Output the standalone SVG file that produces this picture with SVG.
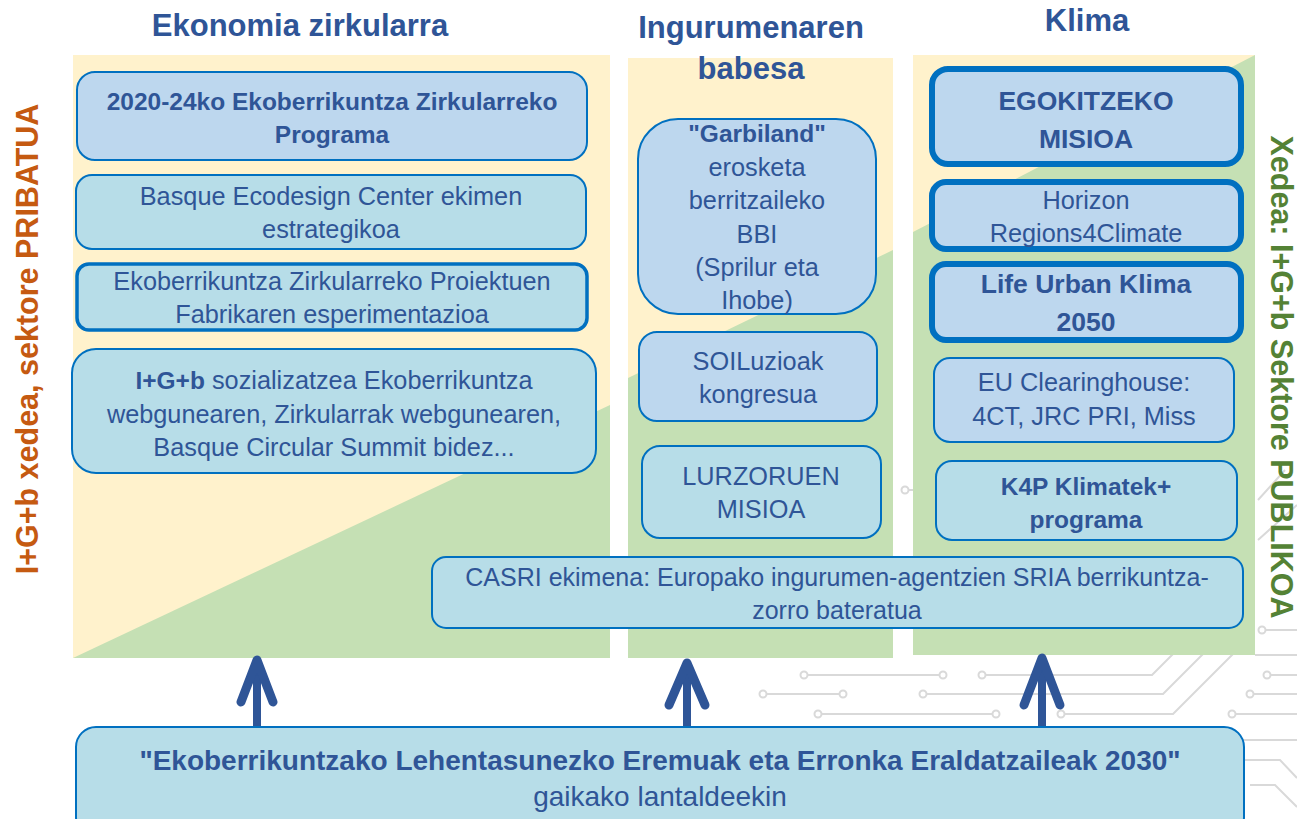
<svg xmlns="http://www.w3.org/2000/svg" width="1297" height="819" viewBox="0 0 1297 819">
<style>
.bg{fill:#ffffff}
.yel{fill:#FFF2CC}
.grn{fill:#C5E0B4}
.circ{fill:none;stroke:#D9D9D9;stroke-width:2}
.dot{fill:#ffffff;stroke:#D9D9D9;stroke-width:2}
.bx{stroke:#0070C0;stroke-width:2}
.thick{stroke:#0070C0;stroke-width:3.5}
.heavy{stroke:#0070C0;stroke-width:6}
.blue{fill:#BDD7EE}
.cyan{fill:#B7DDE8}
.t{font-family:"Liberation Sans",Arial,sans-serif;font-size:25.3px;fill:#2F5597;text-anchor:middle}
.b{font-weight:bold;font-size:24.5px}
.big{font-size:26.5px}
.ft{font-size:28px}
.title{font-family:"Liberation Sans",Arial,sans-serif;font-size:31px;font-weight:bold;fill:#2F5597;text-anchor:middle}
.side{font-family:"Liberation Sans",Arial,sans-serif;font-size:30.5px;font-weight:bold;text-anchor:middle}
.arr{fill:none;stroke:#2F5597;stroke-linecap:round;stroke-linejoin:round}
</style>
<rect class="bg" x="0" y="0" width="1297" height="819"/>
<g id="circuit">
<path class="circ" d="M804 675H943M982 675H1152L1190 637M763 694H843M923 694H1163L1220 637M818 714H996M1061 714H1173L1240 647M1267 675H1297M1250 694H1297M1232 714H1297M1255 655H1297M1262 630H1297M1240 740L1297 740M1245 760L1280 760L1297 778M1250 785L1275 785L1297 807M1258 500L1285 470M1258 540L1297 505M905 490H913"/>
<circle class="dot" cx="804" cy="675" r="3.5"/><circle class="dot" cx="943" cy="675" r="3.5"/>
<circle class="dot" cx="982" cy="675" r="3.5"/><circle class="dot" cx="763" cy="694" r="3.5"/>
<circle class="dot" cx="843" cy="694" r="3.5"/><circle class="dot" cx="923" cy="694" r="3.5"/>
<circle class="dot" cx="818" cy="714" r="3.5"/><circle class="dot" cx="996" cy="714" r="3.5"/>
<circle class="dot" cx="1061" cy="714" r="3.5"/><circle class="dot" cx="1267" cy="675" r="3.5"/>
<circle class="dot" cx="1250" cy="694" r="3.5"/><circle class="dot" cx="1232" cy="714" r="3.5"/>
<circle class="dot" cx="1262" cy="630" r="3.5"/><circle class="dot" cx="905" cy="490" r="3.5"/>
</g>
<g id="panels">
<rect class="yel" x="73" y="55" width="537" height="603"/>
<polygon class="grn" points="73,658 610,658 610,405"/>
<rect class="yel" x="628" y="58" width="265" height="600"/>
<polygon class="grn" points="628,658 893,658 893,250 628,378"/>
<rect class="yel" x="913" y="55" width="342" height="600"/>
<polygon class="grn" points="913,655 1255,655 1255,55 913,232"/>
</g>
<g id="titles">
<text class="title" x="300" y="36">Ekonomia zirkularra</text>
<text class="title" x="751" y="38">Ingurumenaren</text>
<text class="title" x="751" y="79">babesa</text>
<text class="title" x="1087" y="31">Klima</text>
<text class="side" fill="#C55A11" transform="translate(38,339) rotate(-90)">I+G+b xedea, sektore PRIBATUA</text>
<text class="side" fill="#548235" transform="translate(1271,377) rotate(90)">Xedea: I+G+b Sektore PUBLIKOA</text>
</g>
<g id="connectors">
<path class="arr" stroke-width="8" d="M257 727V668"/>
<path class="arr" stroke-width="9" d="M241 702L257 660L273 702"/>
<path class="arr" stroke-width="8" d="M687 727V670"/>
<path class="arr" stroke-width="9" d="M669 705L687 663L705 705"/>
<path class="arr" stroke-width="8" d="M1042 727V664"/>
<path class="arr" stroke-width="9" d="M1024 705L1042 658L1060 705"/>
</g>
<g id="n1">
<rect class="blue bx" x="77" y="72" width="510" height="88" rx="18"/>
<text class="t b" x="332" y="110">2020-24ko Ekoberrikuntza Zirkularreko</text>
<text class="t b" x="332" y="143">Programa</text>
</g>
<g id="n2">
<rect class="cyan bx" x="76" y="175" width="510" height="74" rx="16"/>
<text class="t" x="331" y="205">Basque Ecodesign Center ekimen</text>
<text class="t" x="331" y="238">estrategikoa</text>
</g>
<g id="n3">
<rect class="cyan thick" x="77" y="264" width="510" height="66" rx="12"/>
<text class="t" x="332" y="290">Ekoberrikuntza Zirkularreko Proiektuen</text>
<text class="t" x="332" y="323">Fabrikaren esperimentazioa</text>
</g>
<g id="n4">
<rect class="cyan bx" x="72" y="349" width="524" height="124" rx="24"/>
<text class="t" x="334" y="389"><tspan class="b">I+G+b</tspan> sozializatzea Ekoberrikuntza</text>
<text class="t" x="334" y="423">webgunearen, Zirkularrak webgunearen,</text>
<text class="t" x="334" y="456">Basque Circular Summit bidez...</text>
</g>
<g id="n5">
<rect class="blue bx" x="638" y="119" width="238" height="195" rx="40"/>
<text class="t b" x="757" y="142">"Garbiland"</text>
<text class="t" x="757" y="176">erosketa</text>
<text class="t" x="757" y="209">berritzaileko</text>
<text class="t" x="757" y="243">BBI</text>
<text class="t" x="757" y="276">(Sprilur eta</text>
<text class="t" x="757" y="309">Ihobe)</text>
</g>
<g id="n6">
<rect class="blue bx" x="639" y="332" width="238" height="89" rx="18"/>
<text class="t" x="758" y="370">SOILuzioak</text>
<text class="t" x="758" y="403">kongresua</text>
</g>
<g id="n7">
<rect class="cyan bx" x="642" y="446" width="239" height="92" rx="18"/>
<text class="t" x="761" y="485">LURZORUEN</text>
<text class="t" x="761" y="518">MISIOA</text>
</g>
<g id="n8">
<rect class="blue heavy" x="932" y="69" width="309" height="95" rx="16"/>
<text class="t b big" x="1086" y="110">EGOKITZEKO</text>
<text class="t b big" x="1086" y="148">MISIOA</text>
</g>
<g id="n9">
<rect class="blue heavy" x="932" y="182" width="309" height="67" rx="14"/>
<text class="t" x="1086" y="209">Horizon</text>
<text class="t" x="1086" y="242">Regions4Climate</text>
</g>
<g id="n10">
<rect class="blue heavy" x="932" y="264" width="309" height="76" rx="14"/>
<text class="t b big" x="1086" y="293">Life Urban Klima</text>
<text class="t b big" x="1086" y="331">2050</text>
</g>
<g id="n11">
<rect class="blue bx" x="934" y="358" width="300" height="84" rx="16"/>
<text class="t" x="1084" y="391">EU Clearinghouse:</text>
<text class="t" x="1084" y="425">4CT, JRC PRI, Miss</text>
</g>
<g id="n12">
<rect class="cyan bx" x="936" y="461" width="301" height="79" rx="16"/>
<text class="t b" x="1086" y="495">K4P Klimatek+</text>
<text class="t b" x="1086" y="528">programa</text>
</g>
<g id="n13">
<rect class="cyan bx" x="432" y="557" width="811" height="71" rx="14"/>
<text class="t" x="837" y="586" style="font-size:25px">CASRI ekimena: Europako ingurumen-agentzien SRIA berrikuntza-</text>
<text class="t" x="837" y="619" style="font-size:25px">zorro bateratua</text>
</g>
<g id="n14">
<rect class="cyan bx" x="76" y="727" width="1168" height="110" rx="20"/>
<text class="t b ft" x="660" y="770">"Ekoberrikuntzako Lehentasunezko Eremuak eta Erronka Eraldatzaileak 2030"</text>
<text class="t ft" x="660" y="806">gaikako lantaldeekin</text>
</g>
</svg>
